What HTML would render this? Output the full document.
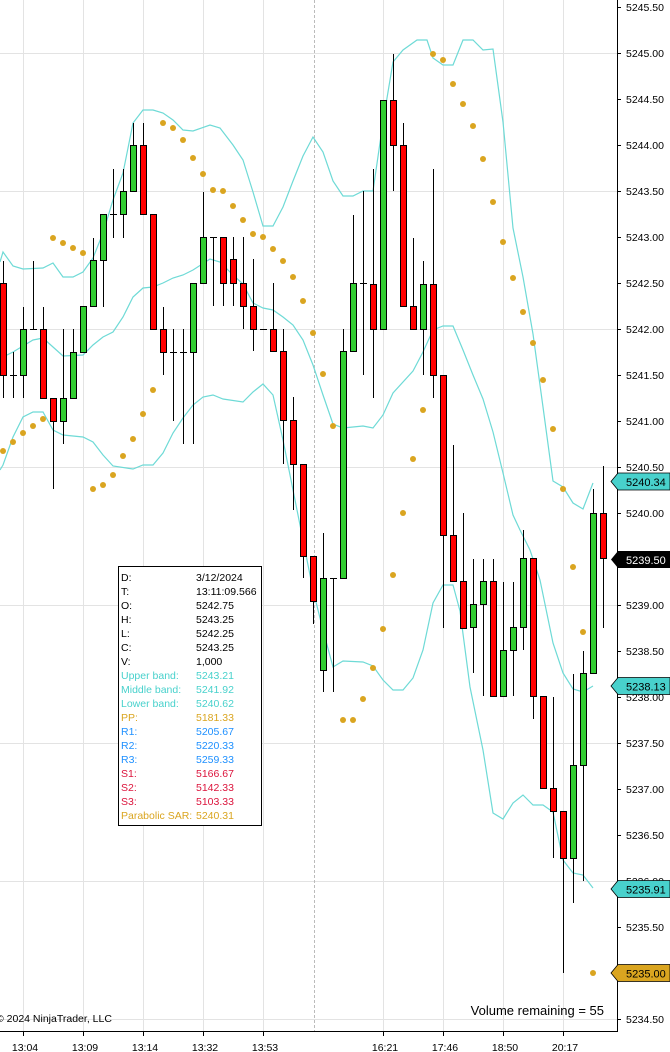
<!DOCTYPE html>
<html><head><meta charset="utf-8"><style>
html,body{margin:0;padding:0;background:#fff;}
svg{display:block;font-family:"Liberation Sans",Arial,sans-serif;}
</style></head><body>
<svg width="670" height="1052" viewBox="0 0 670 1052" xmlns="http://www.w3.org/2000/svg">
<rect width="670" height="1052" fill="#fff"/>
<g stroke="#e3e3e3" stroke-width="1">
<line x1="0" y1="53.5" x2="617" y2="53.5"/><line x1="0" y1="191.5" x2="617" y2="191.5"/><line x1="0" y1="329.5" x2="617" y2="329.5"/><line x1="0" y1="467.5" x2="617" y2="467.5"/><line x1="0" y1="605.5" x2="617" y2="605.5"/><line x1="0" y1="743.5" x2="617" y2="743.5"/><line x1="0" y1="881.5" x2="617" y2="881.5"/><line x1="0" y1="1019.5" x2="617" y2="1019.5"/>
<line x1="23.5" y1="0" x2="23.5" y2="1031"/><line x1="83.5" y1="0" x2="83.5" y2="1031"/><line x1="143.5" y1="0" x2="143.5" y2="1031"/><line x1="203.5" y1="0" x2="203.5" y2="1031"/><line x1="263.5" y1="0" x2="263.5" y2="1031"/><line x1="383.5" y1="0" x2="383.5" y2="1031"/><line x1="443.5" y1="0" x2="443.5" y2="1031"/><line x1="503.5" y1="0" x2="503.5" y2="1031"/><line x1="563.5" y1="0" x2="563.5" y2="1031"/>
</g>
<line x1="314.5" y1="0" x2="314.5" y2="1031" stroke="#bbb" stroke-dasharray="3,2"/>
<g fill="none" stroke="#6edad6" stroke-width="1.2">
<polyline points="0,262 3,252 13,266 23,269 43,268 53,263 63,277 73,277 83,272 93,258 103,233 113,200 123,173 133,123 143,110 153,110 163,113 173,120 183,130 193,131 210,125 220,128 233,145 243,160 253,192 263,226 273,226 283,207 293,181 303,156 313,137 323,152 333,181 343,196 353,196 363,191 373,191 383,122 393,62 403,50 417,40 427,40 433,58 443,65 453,65 463,40 473,40 483,50 493,49 503,122 513,228 523,277 533,334 543,407 553,481 563,487 573,503 583,509 593,483"/>
<polyline points="0,360 3,357 13,352 23,346 33,340 43,338 53,347 63,356 83,355 93,345 103,337 113,332 123,317 133,297 143,288 153,287 163,283 173,278 183,275 193,270 210,259 220,262 233,275 243,284 253,303 263,308 273,310 283,317 293,325 303,340 313,365 323,395 333,424 343,428 363,426 373,428 383,415 393,393 413,371 423,352 433,330 443,326 453,326 463,350 473,375 483,399 493,432 503,473 513,515 520,530 530,550 540,580 553,643 563,673 573,689 583,692 593,686"/>
<polyline points="0,470 3,465 13,437 23,417 33,412 43,412 53,430 63,435 83,437 93,442 103,455 113,466 133,469 143,465 153,465 163,453 173,433 183,418 193,405 203,397 213,395 223,399 243,402 253,392 263,384 273,395 283,440 293,490 303,540 313,590 323,630 333,667 343,661 363,662 373,666 383,680 393,690 403,690 413,678 423,650 433,603 443,585 453,585 460,611 470,687 483,750 493,813 503,819 513,803 523,795 533,805 543,805 553,812 563,860 573,873 583,875 593,888"/>
</g>
<g fill="#DAA520">
<circle cx="3" cy="451" r="3"/><circle cx="13" cy="442" r="3"/><circle cx="23" cy="433" r="3"/><circle cx="33" cy="426" r="3"/><circle cx="43" cy="419" r="3"/>
<circle cx="53" cy="238" r="3"/><circle cx="63" cy="243" r="3"/><circle cx="73" cy="248" r="3"/><circle cx="83" cy="253" r="3"/>
<circle cx="93" cy="489" r="3"/><circle cx="103" cy="485" r="3"/><circle cx="113" cy="475" r="3"/><circle cx="123" cy="456" r="3"/><circle cx="133" cy="439" r="3"/><circle cx="143" cy="414" r="3"/><circle cx="153" cy="390" r="3"/>
<circle cx="163" cy="123" r="3"/><circle cx="173" cy="128" r="3"/><circle cx="183" cy="140" r="3"/><circle cx="193" cy="158" r="3"/><circle cx="203" cy="174" r="3"/><circle cx="213" cy="190" r="3"/><circle cx="223" cy="191" r="3"/><circle cx="233" cy="206" r="3"/><circle cx="243" cy="220" r="3"/><circle cx="253" cy="234" r="3"/><circle cx="263" cy="237" r="3"/><circle cx="273" cy="249" r="3"/><circle cx="283" cy="261" r="3"/><circle cx="293" cy="277" r="3"/><circle cx="303" cy="301" r="3"/><circle cx="313" cy="333" r="3"/><circle cx="323" cy="374" r="3"/><circle cx="333" cy="426" r="3"/>
<circle cx="343" cy="720" r="3"/><circle cx="353" cy="720" r="3"/><circle cx="363" cy="699" r="3"/><circle cx="373" cy="668" r="3"/><circle cx="383" cy="629" r="3"/><circle cx="393" cy="575" r="3"/><circle cx="403" cy="513" r="3"/><circle cx="413" cy="459" r="3"/><circle cx="423" cy="410" r="3"/>
<circle cx="433" cy="54" r="3"/><circle cx="443" cy="60" r="3"/><circle cx="453" cy="84" r="3"/><circle cx="463" cy="104" r="3"/><circle cx="473" cy="126" r="3"/><circle cx="483" cy="159" r="3"/><circle cx="493" cy="202" r="3"/><circle cx="503" cy="242" r="3"/><circle cx="513" cy="278" r="3"/><circle cx="523" cy="312" r="3"/><circle cx="533" cy="343" r="3"/><circle cx="543" cy="380" r="3"/><circle cx="553" cy="429" r="3"/><circle cx="563" cy="489" r="3"/>
<circle cx="573" cy="567" r="3"/><circle cx="583" cy="632" r="3"/><circle cx="593" cy="973" r="3"/>
</g>
<g stroke="#000" stroke-width="1">
<line x1="3.5" y1="261" x2="3.5" y2="398"/><line x1="13.5" y1="352" x2="13.5" y2="398"/><line x1="23.5" y1="307" x2="23.5" y2="398"/><line x1="33.5" y1="261" x2="33.5" y2="329"/><line x1="43.5" y1="307" x2="43.5" y2="398"/><line x1="53.5" y1="398" x2="53.5" y2="489"/><line x1="63.5" y1="329" x2="63.5" y2="444"/><line x1="73.5" y1="329" x2="73.5" y2="398"/><line x1="93.5" y1="238" x2="93.5" y2="306"/><line x1="103.5" y1="214" x2="103.5" y2="307"/><line x1="113.5" y1="169" x2="113.5" y2="238"/><line x1="123.5" y1="169" x2="123.5" y2="238"/><line x1="133.5" y1="123" x2="133.5" y2="191"/><line x1="143.5" y1="123" x2="143.5" y2="214"/><line x1="163.5" y1="307" x2="163.5" y2="375"/><line x1="173.5" y1="329" x2="173.5" y2="421"/><line x1="183.5" y1="329" x2="183.5" y2="444"/><line x1="193.5" y1="283" x2="193.5" y2="444"/><line x1="203.5" y1="192" x2="203.5" y2="283"/><line x1="213.5" y1="237" x2="213.5" y2="306"/><line x1="223.5" y1="237" x2="223.5" y2="306"/><line x1="233.5" y1="237" x2="233.5" y2="306"/><line x1="243.5" y1="237" x2="243.5" y2="329"/><line x1="253.5" y1="259" x2="253.5" y2="351"/><line x1="273.5" y1="283" x2="273.5" y2="351"/><line x1="283.5" y1="329" x2="283.5" y2="464"/><line x1="293.5" y1="397" x2="293.5" y2="510"/><line x1="303.5" y1="464" x2="303.5" y2="578"/><line x1="313.5" y1="556" x2="313.5" y2="624"/><line x1="323.5" y1="533" x2="323.5" y2="692"/><line x1="333.5" y1="578" x2="333.5" y2="692"/><line x1="343.5" y1="329" x2="343.5" y2="578"/><line x1="353.5" y1="215" x2="353.5" y2="351"/><line x1="363.5" y1="191" x2="363.5" y2="375"/><line x1="373.5" y1="169" x2="373.5" y2="398"/><line x1="393.5" y1="54" x2="393.5" y2="191"/><line x1="403.5" y1="123" x2="403.5" y2="306"/><line x1="413.5" y1="238" x2="413.5" y2="329"/><line x1="423.5" y1="261" x2="423.5" y2="375"/><line x1="433.5" y1="169" x2="433.5" y2="398"/><line x1="443.5" y1="375" x2="443.5" y2="628"/><line x1="453.5" y1="445" x2="453.5" y2="581"/><line x1="463.5" y1="513" x2="463.5" y2="628"/><line x1="473.5" y1="559" x2="473.5" y2="673"/><line x1="483.5" y1="559" x2="483.5" y2="696"/><line x1="493.5" y1="559" x2="493.5" y2="696"/><line x1="503.5" y1="582" x2="503.5" y2="696"/><line x1="513.5" y1="582" x2="513.5" y2="696"/><line x1="523.5" y1="530" x2="523.5" y2="650"/><line x1="533.5" y1="558" x2="533.5" y2="719"/><line x1="553.5" y1="697" x2="553.5" y2="858"/><line x1="563.5" y1="811" x2="563.5" y2="973"/><line x1="573.5" y1="674" x2="573.5" y2="903"/><line x1="583.5" y1="651" x2="583.5" y2="881"/><line x1="593.5" y1="489" x2="593.5" y2="673"/><line x1="603.5" y1="466" x2="603.5" y2="628"/>
<line x1="10" y1="375.5" x2="17" y2="375.5"/><line x1="30" y1="329.5" x2="37" y2="329.5"/><line x1="110" y1="214.5" x2="117" y2="214.5"/><line x1="170" y1="352.5" x2="177" y2="352.5"/><line x1="180" y1="352.5" x2="187" y2="352.5"/><line x1="210" y1="237.5" x2="217" y2="237.5"/><line x1="260" y1="329.5" x2="267" y2="329.5"/><line x1="330" y1="578.5" x2="337" y2="578.5"/><line x1="360" y1="283.5" x2="367" y2="283.5"/>
</g>
<g stroke="#000" stroke-width="1" fill="#FF0000">
<rect x="0.5" y="283.5" width="6" height="92"/><rect x="40.5" y="329.5" width="6" height="69"/><rect x="50.5" y="398.5" width="6" height="23"/><rect x="140.5" y="145.5" width="6" height="69"/><rect x="150.5" y="214.5" width="6" height="115"/><rect x="160.5" y="329.5" width="6" height="23"/><rect x="220.5" y="237.5" width="6" height="46"/><rect x="230.5" y="259.5" width="6" height="24"/><rect x="240.5" y="283.5" width="6" height="23"/><rect x="250.5" y="306.5" width="6" height="23"/><rect x="270.5" y="329.5" width="6" height="22"/><rect x="280.5" y="351.5" width="6" height="69"/><rect x="290.5" y="420.5" width="6" height="44"/><rect x="300.5" y="464.5" width="6" height="92"/><rect x="310.5" y="556.5" width="6" height="45"/><rect x="370.5" y="284.5" width="6" height="45"/><rect x="390.5" y="100.5" width="6" height="45"/><rect x="400.5" y="145.5" width="6" height="161"/><rect x="410.5" y="306.5" width="6" height="23"/><rect x="430.5" y="284.5" width="6" height="91"/><rect x="440.5" y="375.5" width="6" height="160"/><rect x="450.5" y="535.5" width="6" height="46"/><rect x="460.5" y="581.5" width="6" height="47"/><rect x="490.5" y="581.5" width="6" height="115"/><rect x="530.5" y="558.5" width="6" height="138"/><rect x="540.5" y="696.5" width="6" height="92"/><rect x="550.5" y="788.5" width="6" height="23"/><rect x="560.5" y="811.5" width="6" height="47"/><rect x="600.5" y="513.5" width="6" height="45"/>
</g>
<g stroke="#000" stroke-width="1" fill="#32CD32">
<rect x="20.5" y="329.5" width="6" height="46"/><rect x="60.5" y="398.5" width="6" height="23"/><rect x="70.5" y="352.5" width="6" height="46"/><rect x="80.5" y="306.5" width="6" height="46"/><rect x="90.5" y="260.5" width="6" height="46"/><rect x="100.5" y="214.5" width="6" height="46"/><rect x="120.5" y="191.5" width="6" height="23"/><rect x="130.5" y="145.5" width="6" height="46"/><rect x="190.5" y="283.5" width="6" height="69"/><rect x="200.5" y="237.5" width="6" height="46"/><rect x="320.5" y="578.5" width="6" height="92"/><rect x="340.5" y="351.5" width="6" height="227"/><rect x="350.5" y="283.5" width="6" height="68"/><rect x="380.5" y="100.5" width="6" height="229"/><rect x="420.5" y="284.5" width="6" height="45"/><rect x="470.5" y="604.5" width="6" height="23"/><rect x="480.5" y="581.5" width="6" height="23"/><rect x="500.5" y="650.5" width="6" height="46"/><rect x="510.5" y="627.5" width="6" height="23"/><rect x="520.5" y="558.5" width="6" height="69"/><rect x="570.5" y="765.5" width="6" height="93"/><rect x="580.5" y="673.5" width="6" height="92"/><rect x="590.5" y="513.5" width="6" height="160"/>
</g>
<rect x="118.5" y="566.5" width="143" height="259" fill="#fff" stroke="#000"/>
<g font-size="10.5" fill="#000">
<text x="121" y="581">D:</text><text x="196" y="581">3/12/2024</text>
<text x="121" y="595">T:</text><text x="196" y="595">13:11:09.566</text>
<text x="121" y="609">O:</text><text x="196" y="609">5242.75</text>
<text x="121" y="623">H:</text><text x="196" y="623">5243.25</text>
<text x="121" y="637">L:</text><text x="196" y="637">5242.25</text>
<text x="121" y="651">C:</text><text x="196" y="651">5243.25</text>
<text x="121" y="665">V:</text><text x="196" y="665">1,000</text>
</g>
<g font-size="10.5" fill="#48D1CC">
<text x="121" y="679">Upper band:</text><text x="196" y="679">5243.21</text>
<text x="121" y="693">Middle band:</text><text x="196" y="693">5241.92</text>
<text x="121" y="707">Lower band:</text><text x="196" y="707">5240.62</text>
</g>
<g font-size="10.5" fill="#DAA520"><text x="121" y="721">PP:</text><text x="196" y="721">5181.33</text></g>
<g font-size="10.5" fill="#1E90FF">
<text x="121" y="735">R1:</text><text x="196" y="735">5205.67</text>
<text x="121" y="749">R2:</text><text x="196" y="749">5220.33</text>
<text x="121" y="763">R3:</text><text x="196" y="763">5259.33</text>
</g>
<g font-size="10.5" fill="#DC143C">
<text x="121" y="777">S1:</text><text x="196" y="777">5166.67</text>
<text x="121" y="791">S2:</text><text x="196" y="791">5142.33</text>
<text x="121" y="805">S3:</text><text x="196" y="805">5103.33</text>
</g>
<g font-size="10.5" fill="#DAA520"><text x="121" y="819">Parabolic SAR:</text><text x="196" y="819">5240.31</text></g>
<rect x="0" y="1032" width="617" height="20" fill="#fff"/>
<line x1="0" y1="1031.5" x2="617" y2="1031.5" stroke="#000"/>
<line x1="617.5" y1="0" x2="617.5" y2="1032" stroke="#000"/>
<g stroke="#000">
<line x1="23.5" y1="1032" x2="23.5" y2="1036"/><line x1="83.5" y1="1032" x2="83.5" y2="1036"/><line x1="143.5" y1="1032" x2="143.5" y2="1036"/><line x1="203.5" y1="1032" x2="203.5" y2="1036"/><line x1="263.5" y1="1032" x2="263.5" y2="1036"/><line x1="383.5" y1="1032" x2="383.5" y2="1036"/><line x1="443.5" y1="1032" x2="443.5" y2="1036"/><line x1="503.5" y1="1032" x2="503.5" y2="1036"/><line x1="563.5" y1="1032" x2="563.5" y2="1036"/>
</g>
<g font-size="10.5" fill="#000" text-anchor="middle">
<text x="25" y="1051">13:04</text><text x="85" y="1051">13:09</text><text x="145" y="1051">13:14</text><text x="205" y="1051">13:32</text><text x="265" y="1051">13:53</text><text x="385" y="1051">16:21</text><text x="445" y="1051">17:46</text><text x="505" y="1051">18:50</text><text x="565" y="1051">20:17</text>
</g>
<text x="-4" y="1022" font-size="10.5" fill="#000">© 2024 NinjaTrader, LLC</text>
<text x="604" y="1015" font-size="13" fill="#000" text-anchor="end">Volume remaining = 55</text>
<g stroke="#000">
<line x1="617" y1="7.5" x2="621" y2="7.5"/><line x1="617" y1="53.5" x2="621" y2="53.5"/><line x1="617" y1="99.5" x2="621" y2="99.5"/><line x1="617" y1="145.5" x2="621" y2="145.5"/><line x1="617" y1="191.5" x2="621" y2="191.5"/><line x1="617" y1="237.5" x2="621" y2="237.5"/><line x1="617" y1="283.5" x2="621" y2="283.5"/><line x1="617" y1="329.5" x2="621" y2="329.5"/><line x1="617" y1="375.5" x2="621" y2="375.5"/><line x1="617" y1="421.5" x2="621" y2="421.5"/><line x1="617" y1="467.5" x2="621" y2="467.5"/><line x1="617" y1="513.5" x2="621" y2="513.5"/><line x1="617" y1="605.5" x2="621" y2="605.5"/><line x1="617" y1="651.5" x2="621" y2="651.5"/><line x1="617" y1="697.5" x2="621" y2="697.5"/><line x1="617" y1="743.5" x2="621" y2="743.5"/><line x1="617" y1="789.5" x2="621" y2="789.5"/><line x1="617" y1="835.5" x2="621" y2="835.5"/><line x1="617" y1="881.5" x2="621" y2="881.5"/><line x1="617" y1="927.5" x2="621" y2="927.5"/><line x1="617" y1="1019.5" x2="621" y2="1019.5"/>
</g>
<g font-size="10.5" fill="#000">
<text x="626" y="11">5245.50</text><text x="626" y="57">5245.00</text><text x="626" y="103">5244.50</text><text x="626" y="149">5244.00</text><text x="626" y="195">5243.50</text><text x="626" y="241">5243.00</text><text x="626" y="287">5242.50</text><text x="626" y="333">5242.00</text><text x="626" y="379">5241.50</text><text x="626" y="425">5241.00</text><text x="626" y="471">5240.50</text><text x="626" y="517">5240.00</text><text x="626" y="609">5239.00</text><text x="626" y="655">5238.50</text><text x="626" y="701">5238.00</text><text x="626" y="747">5237.50</text><text x="626" y="793">5237.00</text><text x="626" y="839">5236.50</text><text x="626" y="885">5236.00</text><text x="626" y="931">5235.50</text><text x="626" y="1023">5234.50</text>
</g>
<g font-size="11">
<polygon points="611,481.5 618,473 670,473 670,490 618,490" fill="#48D1CC" stroke="#000" stroke-width="0.8"/><text x="626" y="486" fill="#000">5240.34</text>
<polygon points="611,559.5 618,551 670,551 670,568 618,568" fill="#000"/><text x="626" y="564" fill="#fff">5239.50</text>
<polygon points="611,686 618,677.5 670,677.5 670,694.5 618,694.5" fill="#48D1CC" stroke="#000" stroke-width="0.8"/><text x="626" y="690.5" fill="#000">5238.13</text>
<polygon points="611,889 618,880.5 670,880.5 670,897.5 618,897.5" fill="#48D1CC" stroke="#000" stroke-width="0.8"/><text x="626" y="893.5" fill="#000">5235.91</text>
<polygon points="611,973 618,964.5 670,964.5 670,981.5 618,981.5" fill="#DAA520" stroke="#000" stroke-width="0.8"/><text x="626" y="977.5" fill="#000">5235.00</text>
</g>
</svg>
</body></html>
